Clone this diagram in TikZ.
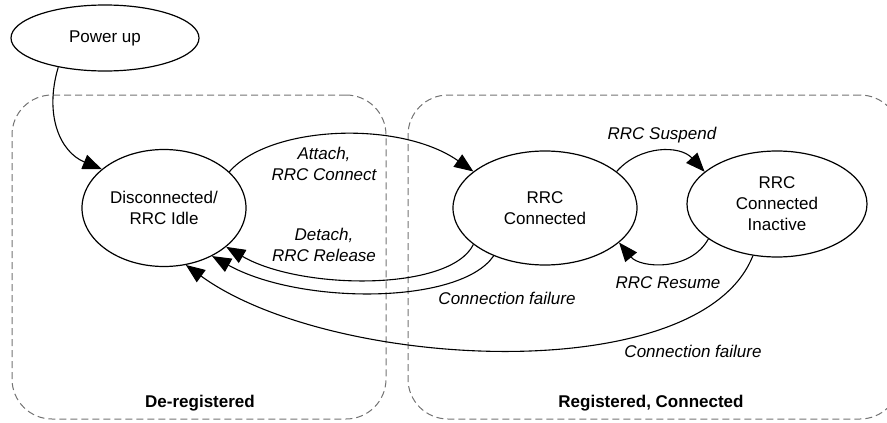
\documentclass[tikz,border=0pt]{standalone}
\usepackage{fontspec}
\setmainfont{Liberation Sans}
\usetikzlibrary{arrows.meta,shapes.geometric}
\begin{document}
\begin{tikzpicture}[x=1pt,y=-1pt,
  font=\fontsize{17}{21}\selectfont,
  state/.style={ellipse,draw,line width=1.2pt,inner sep=0pt,align=center},
  zone/.style={draw=black!55,dash pattern=on 7pt off 4pt,line width=1pt,rounded corners=40pt,inner sep=0pt},
  trans/.style={line width=1.1pt,-{Triangle[length=19pt,width=15pt]}},
  lab/.style={font=\fontsize{17}{21}\selectfont\itshape,align=center,inner sep=0pt},
  zlab/.style={font=\fontsize{17}{21}\selectfont\bfseries,inner sep=0pt}]
\useasboundingbox (0,0) rectangle (887,423);
% zones
\begin{scope}
\clip (0,0) rectangle (887,423);
\node[zone,minimum width=374pt,minimum height=324pt] (dereg) at (199,257) {};
\node[zone,minimum width=492pt,minimum height=324pt] (reg) at (654,257) {};
\end{scope}
\node[zlab] (dereglab) at (200,403) {De-registered};
\node[zlab] (reglab) at (651,403) {Registered, Connected};
% states
\node[state,minimum width=188pt,minimum height=66pt] (P) at (105,38) {Power up};
\node[state,minimum width=164pt,minimum height=117pt] (D) at (164,208) {Disconnected/\\RRC Idle};
\node[state,minimum width=184pt,minimum height=114pt] (C) at (545,208) {RRC\\Connected};
\node[state,minimum width=180pt,minimum height=106pt] (I) at (777,204) {RRC\\Connected\\Inactive};
% transitions
\draw[trans] (P.212.5) .. controls (44,115) and (60,152) .. (D.148.6);
\draw[trans] (D.29.4) .. controls (270,125) and (400,120) .. (C.153);
\draw[trans] (C.27) .. controls (640,145) and (680,145) .. (I.156);
\draw[trans] (I.207.5) .. controls (690,272) and (640,268) .. (C.335);
\draw[trans] (C.207) .. controls (450,292) and (300,290) .. (D.328.6);
\draw[trans] (C.223) .. controls (460,305) and (300,305) .. (D.315);
\draw[trans] (I.245.6) .. controls (700,390) and (330,370) .. (D.291);
% labels
\node[lab] (l1) at (324,164) {Attach,\\RRC Connect};
\node[lab] (l2) at (324,245) {Detach,\\RRC Release};
\node[lab] (l3) at (662,135) {RRC Suspend};
\node[lab] (l4) at (668,283) {RRC Resume};
\node[lab] (l5) at (507,298) {Connection failure};
\node[lab] (l6) at (693,351) {Connection failure};
\end{tikzpicture}
\end{document}
